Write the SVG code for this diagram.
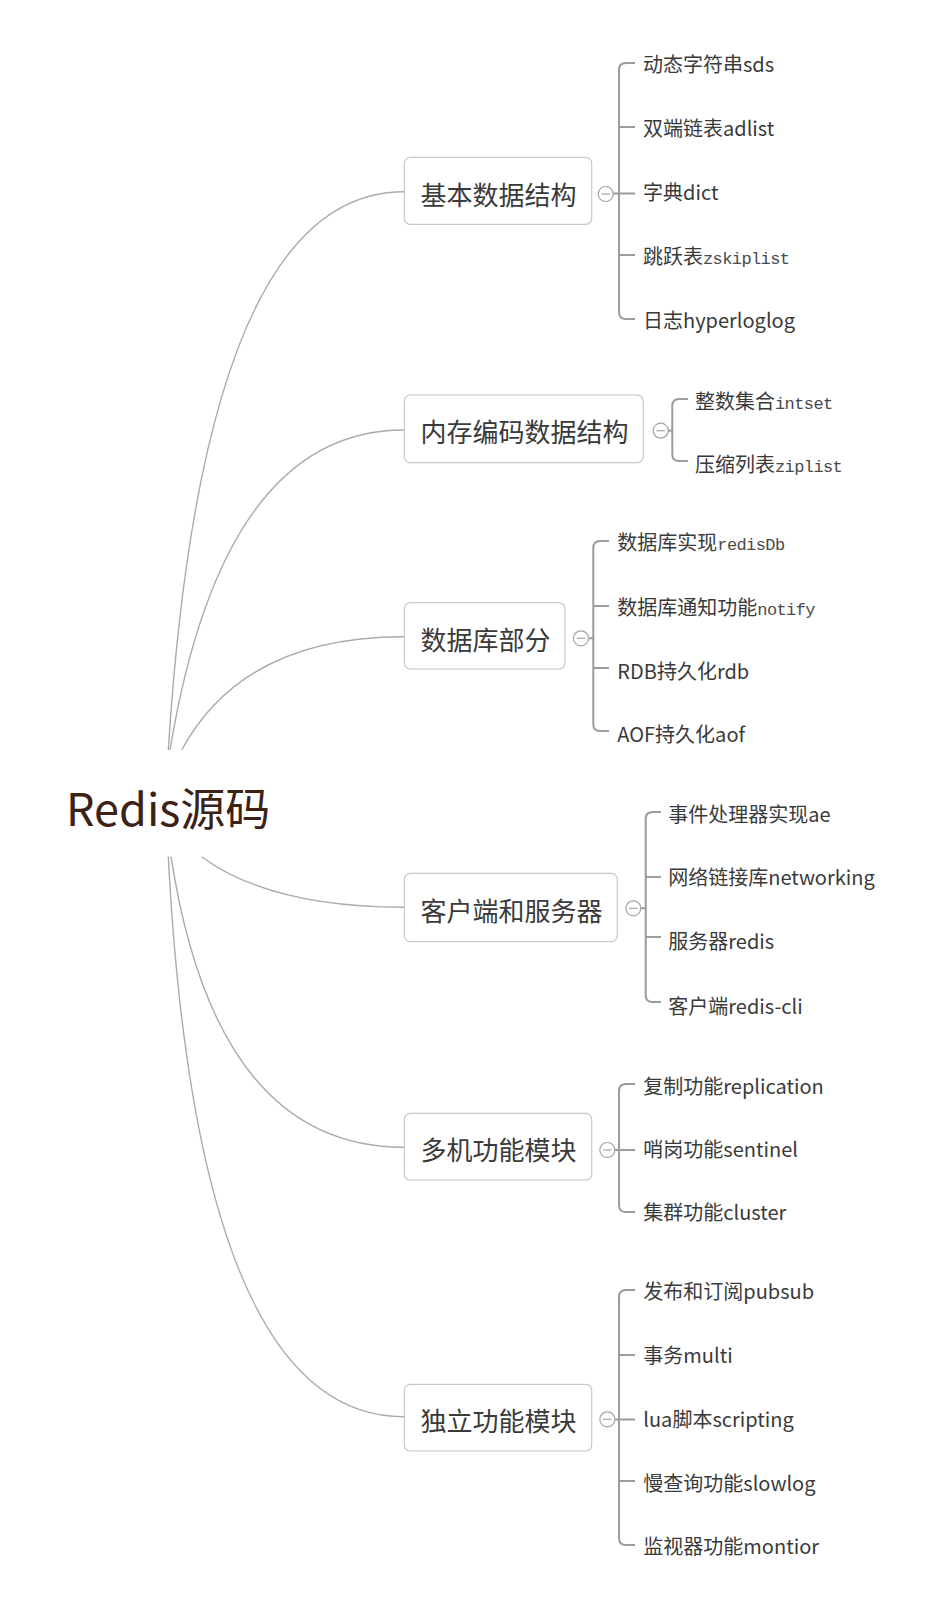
<svg xmlns="http://www.w3.org/2000/svg" width="939" height="1617" viewBox="0 0 939 1617">
<style>
.bg{fill:#ffffff}
.conn{fill:none;stroke:#ababab;stroke-width:1.4}
.br{fill:none;stroke:#9c9c9c;stroke-width:2}
.box{fill:#ffffff;stroke:#c8c8c8;stroke-width:1.2}
.col{fill:#ffffff;stroke:#a4a4a4;stroke-width:1.2}
.minus{stroke:#a4a4a4;stroke-width:1.2}
.root{font-family:"Noto Sans CJK SC","Noto Sans",sans-serif;font-size:45px;fill:#3b2215}
.nt{font-family:"Noto Sans CJK SC","Noto Sans",sans-serif;font-size:26px;fill:#3a3a3a}
.ct{font-family:"Noto Sans CJK SC","Noto Sans",sans-serif;font-size:20px;fill:#3a3a3a}
.mono{font-family:"Liberation Mono","DejaVu Sans Mono",monospace;font-size:17px;letter-spacing:-0.6px;fill:#4a4a4a}
</style>
<rect class="bg" x="0" y="0" width="939" height="1617"/>

<g id="connectors">
  <path class="conn" d="M168.3,750 Q203.5,191.7 404,191.7"/>
  <path class="conn" d="M170,750 Q223,430 404,430"/>
  <path class="conn" d="M181.7,750 Q243,636.7 404,636.7"/>
  <path class="conn" d="M201.7,856.7 Q270,907.3 404,907.3"/>
  <path class="conn" d="M171,856.7 Q216,1147.3 404,1147.3"/>
  <path class="conn" d="M168.3,856.7 Q197.5,1416.7 404,1416.7"/>

  <path class="br" d="M635,63 H626 Q619,63 619,70 V312 Q619,319 626,319 H635"/>
  <path class="br" d="M619,127 H635 M613,193.5 H635 M619,255 H635"/>
  <path class="br" d="M688,399 H679 Q672.3,399 672.3,406 V454 Q672.3,461 679,461 H688"/>
  <path class="br" d="M668,430.7 H672.3"/>
  <path class="br" d="M609,541 H600 Q593.3,541 593.3,548 V724 Q593.3,731 600,731 H609"/>
  <path class="br" d="M593.3,606 H609 M593.3,668 H609 M588.5,638.3 H593.3"/>
  <path class="br" d="M661,812 H652.7 Q645.7,812 645.7,819 V995 Q645.7,1002 652.7,1002 H661"/>
  <path class="br" d="M645.7,877 H661 M645.7,937 H661 M640.8,908.3 H645.7"/>
  <path class="br" d="M635,1084 H626 Q619,1084 619,1091 V1205 Q619,1212 626,1212 H635"/>
  <path class="br" d="M614.8,1150 H635"/>
  <path class="br" d="M635,1290 H626 Q619,1290 619,1297 V1538 Q619,1545 626,1545 H635"/>
  <path class="br" d="M619,1355 H635 M614.8,1419.5 H635 M619,1481 H635"/>
</g>

<g id="root">
  <text class="root" x="66" y="826">Redis源码</text>
</g>

<g id="node-basic">
  <rect class="box" x="404.3" y="157.3" width="187.4" height="67" rx="6"/>
  <text class="nt" x="420.5" y="205">基本数据结构</text>
  <circle class="col" cx="605.7" cy="194" r="7.5"/>
  <line class="minus" x1="601.5" y1="194" x2="609.9" y2="194"/>
</g>
<g id="node-basic-children">
  <text class="ct" x="643" y="72">动态字符串sds</text>
  <text class="ct" x="643" y="136">双端链表adlist</text>
  <text class="ct" x="643" y="200">字典dict</text>
  <text class="ct" x="643" y="264">跳跃表<tspan class="mono">zskiplist</tspan></text>
  <text class="ct" x="643" y="328">日志hyperloglog</text>
</g>

<g id="node-encoding">
  <rect class="box" x="404.3" y="395" width="239" height="67.7" rx="6"/>
  <text class="nt" x="420.5" y="442">内存编码数据结构</text>
  <circle class="col" cx="660.7" cy="430.7" r="7.5"/>
  <line class="minus" x1="656.5" y1="430.7" x2="664.9" y2="430.7"/>
</g>
<g id="node-encoding-children">
  <text class="ct" x="695" y="408.7">整数集合<tspan class="mono">intset</tspan></text>
  <text class="ct" x="695" y="472">压缩列表<tspan class="mono">ziplist</tspan></text>
</g>

<g id="node-db">
  <rect class="box" x="404.3" y="602.7" width="160.7" height="66.3" rx="6"/>
  <text class="nt" x="420.5" y="649.5">数据库部分</text>
  <circle class="col" cx="581" cy="638.3" r="7.5"/>
  <line class="minus" x1="576.8" y1="638.3" x2="585.2" y2="638.3"/>
</g>
<g id="node-db-children">
  <text class="ct" x="617.3" y="550.3">数据库实现<tspan class="mono">redisDb</tspan></text>
  <text class="ct" x="617.3" y="615.3">数据库通知功能<tspan class="mono">notify</tspan></text>
  <text class="ct" x="617.3" y="678.7">RDB持久化rdb</text>
  <text class="ct" x="617.3" y="742">AOF持久化aof</text>
</g>

<g id="node-cs">
  <rect class="box" x="404.3" y="873.3" width="213" height="68.4" rx="6"/>
  <text class="nt" x="420.5" y="921">客户端和服务器</text>
  <circle class="col" cx="633.3" cy="908.3" r="7.5"/>
  <line class="minus" x1="629.1" y1="908.3" x2="637.5" y2="908.3"/>
</g>
<g id="node-cs-children">
  <text class="ct" x="668.3" y="822">事件处理器实现ae</text>
  <text class="ct" x="668.3" y="885.3">网络链接库networking</text>
  <text class="ct" x="668.3" y="948.7">服务器redis</text>
  <text class="ct" x="668.3" y="1013.7">客户端redis-cli</text>
</g>

<g id="node-multi">
  <rect class="box" x="404.3" y="1113.3" width="187.4" height="66.7" rx="6"/>
  <text class="nt" x="420.5" y="1159.5">多机功能模块</text>
  <circle class="col" cx="607.3" cy="1150" r="7.5"/>
  <line class="minus" x1="603.1" y1="1150" x2="611.5" y2="1150"/>
</g>
<g id="node-multi-children">
  <text class="ct" x="643.3" y="1093.7">复制功能replication</text>
  <text class="ct" x="643.3" y="1157">哨岗功能sentinel</text>
  <text class="ct" x="643.3" y="1220.3">集群功能cluster</text>
</g>

<g id="node-single">
  <rect class="box" x="404.3" y="1384.3" width="187.4" height="66.7" rx="6"/>
  <text class="nt" x="420.5" y="1431">独立功能模块</text>
  <circle class="col" cx="607.3" cy="1419.3" r="7.5"/>
  <line class="minus" x1="603.1" y1="1419.3" x2="611.5" y2="1419.3"/>
</g>
<g id="node-single-children">
  <text class="ct" x="643.3" y="1299.3">发布和订阅pubsub</text>
  <text class="ct" x="643.3" y="1363">事务multi</text>
  <text class="ct" x="643.3" y="1427">lua脚本scripting</text>
  <text class="ct" x="643.3" y="1491">慢查询功能slowlog</text>
  <text class="ct" x="643.3" y="1554.3">监视器功能montior</text>
</g>
</svg>
